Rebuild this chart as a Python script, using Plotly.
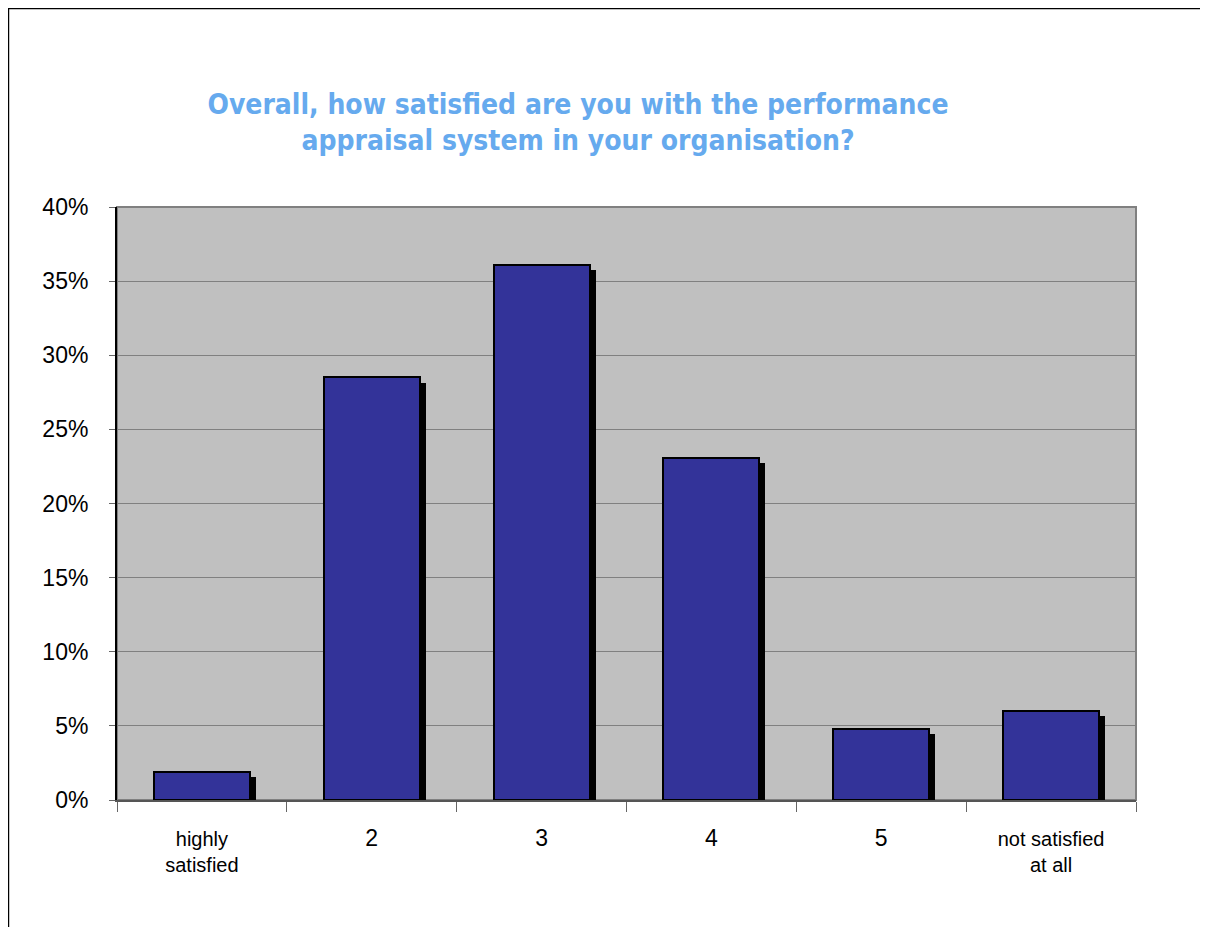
import plotly.graph_objects as go

categories = ["highly satisfied", "2", "3", "4", "5", "not satisfied at all"]
tick_labels = [
    "highly<br>satisfied",
    '<span style="font-size:23px">2</span>',
    '<span style="font-size:23px">3</span>',
    '<span style="font-size:23px">4</span>',
    '<span style="font-size:23px">5</span>',
    "not satisfied<br>at all",
]
percent = [1.9, 28.5, 36.1, 23.1, 4.8, 6.0]
y_ticks = [0, 5, 10, 15, 20, 25, 30, 35, 40]
y_tick_text = [f"{t}%" for t in y_ticks]

bar_w = 0.565
shadow_dx = 0.035  # category units
shadow_top = 0.34  # percent points below bar top
shadow_bottom = 0.2

fig = go.Figure()

# drop shadow behind each bar
fig.add_trace(go.Bar(
    x=categories,
    y=[v - shadow_top + shadow_bottom for v in percent],
    base=-shadow_bottom,
    width=bar_w,
    offset=-bar_w / 2 + shadow_dx,
    marker=dict(color="black", line=dict(width=0)),
    hoverinfo="skip",
    showlegend=False,
))

fig.add_trace(go.Bar(
    x=categories,
    y=percent,
    width=bar_w,
    offset=-bar_w / 2,
    marker=dict(color="#333399", line=dict(color="black", width=2)),
    showlegend=False,
))

# plot area frame
fig.add_shape(type="rect", xref="paper", yref="paper", x0=0, x1=1, y0=0, y1=1,
              line=dict(color="#808080", width=2), layer="below")
# outer figure frame (runs off the right and bottom edges like the original)
fig.add_shape(type="rect", xref="paper", yref="paper",
              x0=-0.1065, x1=1.1, y0=-0.25, y1=1.3347,
              line=dict(color="black", width=1.5))

# page body has an 8px margin, so the figure is sized to sit inside it
fig.update_layout(
    width=1200,
    height=919,
    margin=dict(l=109, r=72, t=199, b=127),
    paper_bgcolor="white",
    plot_bgcolor="#C0C0C0",
    barmode="overlay",
    bargap=0,
    font=dict(family="Liberation Sans, Arial, sans-serif", color="black", size=23),
    title=dict(
        text="Overall, how satisfied are you with the performance<br>appraisal system in your organisation?",
        x=0.475, xanchor="center", xref="container",
        y=0.885, yanchor="middle", yref="container",
        font=dict(family="DejaVu Sans Condensed, DejaVu Sans", size=28,
                  color="#66AAEE", weight="bold"),
    ),
)

fig.update_xaxes(
    type="category",
    tickvals=categories,
    ticktext=tick_labels,
    tickson="boundaries",
    ticks="outside",
    ticklen=10,
    tickcolor="#666666",
    showline=True,
    linecolor="#555555",
    linewidth=2,
    showgrid=False,
    ticklabelstandoff=20,
    tickfont=dict(size=20),
    range=[-0.5, 5.5],
)

fig.update_yaxes(
    range=[0, 40],
    tickvals=y_ticks,
    ticktext=y_tick_text,
    ticks="outside",
    ticklen=6,
    tickcolor="#666666",
    showline=True,
    linecolor="black",
    linewidth=2,
    showgrid=True,
    gridcolor="#808080",
    gridwidth=1,
    zeroline=False,
    ticklabelstandoff=16,
    tickfont=dict(size=23),
)

fig.write_html("out.html")
